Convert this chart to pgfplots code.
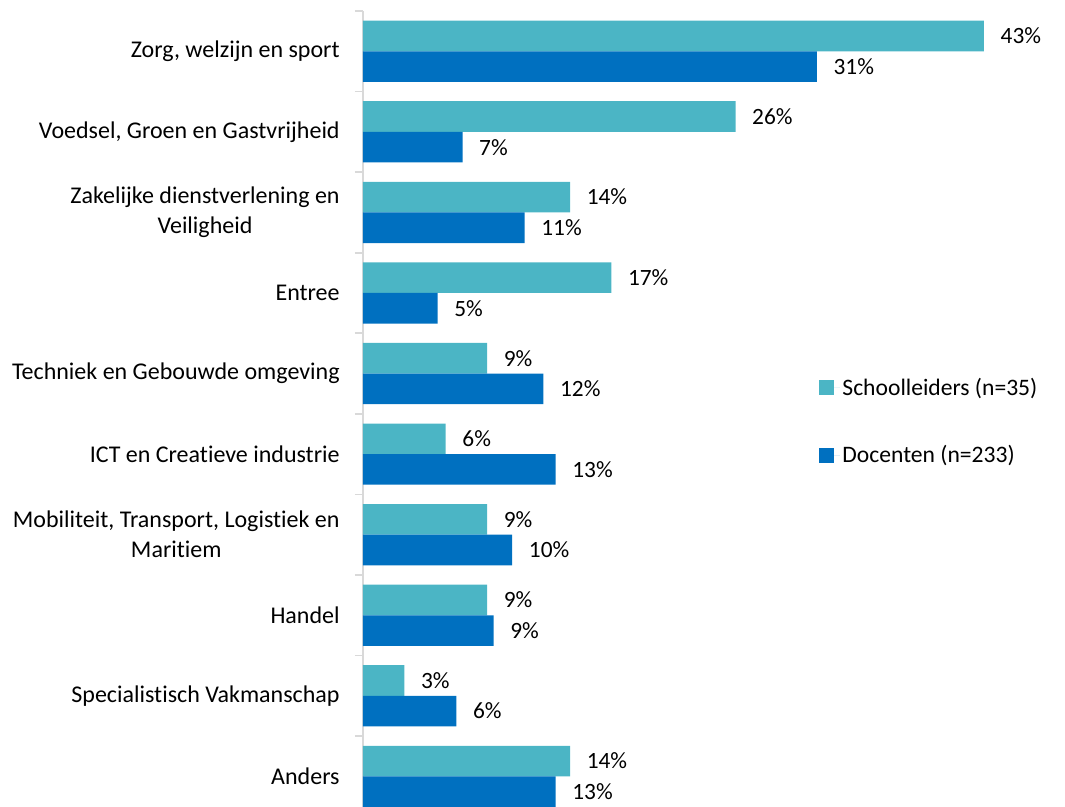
\documentclass[border=0pt]{standalone}
\usepackage{fontspec}
\setmainfont[Ligatures={NoCommon}]{Carlito}
\usepackage{pgfplots}
\pgfplotsset{compat=1.18}
\definecolor{cLight}{RGB}{75,181,197}
\definecolor{cDark}{RGB}{0,112,192}
\definecolor{axgray}{RGB}{217,217,217}
\begin{document}
\begin{tikzpicture}[font=\fontsize{17.5}{22}\selectfont]
\useasboundingbox (0,0) rectangle (798.75pt,605.25pt);
\begin{axis}[
  at={(272.25pt,0pt)}, anchor=south west,
  scale only axis, width=489pt, height=597pt,
  xmin=0, xmax=45, ymin=-0.5, ymax=9.38, y dir=reverse,
  axis x line=none, axis y line*=left,
  y axis line style={draw=axgray, line width=1.2pt},
  xtick=\empty,
  ytick={0,...,9},
  yticklabels={{Zorg, welzijn en sport},{Voedsel, Groen en Gastvrijheid},{Zakelijke dienstverlening en\\Veiligheid},{Entree},{Techniek en Gebouwde omgeving},{ICT en Creatieve industrie},{Mobiliteit, Transport, Logistiek en\\Maritiem},{Handel},{Specialistisch Vakmanschap},{Anders}},
  yticklabel style={align=center, font=\fontsize{18}{22.5}\selectfont, xshift=-14pt},
  major tick length=0pt,
  minor ytick={-0.5,0.5,...,8.5},
  minor tick length=6pt, tick align=outside,
  minor tick style={draw=axgray, line width=1.2pt},
  xbar, bar width=0.38,
  /pgf/number format/assume math mode=true,
  point meta=x,
  nodes near coords={\pgfmathprintnumber[fixed,precision=0]{\pgfplotspointmeta}\%},
  nodes near coords style={anchor=west, xshift=9pt, font=\fontsize{17.5}{22}\selectfont, text=black},
  legend style={at={(0.693,0.4845)}, anchor=west, draw=none, fill=none,
    row sep=32.5pt, font=\fontsize{17.7}{22}\selectfont},
  legend cell align=left,
  legend image code/.code={\fill[#1] (0pt,-5.75pt) rectangle (11.5pt,5.75pt); \path (0pt,0pt) -- (15.5pt,0pt);},
]
\addplot[fill=cLight, draw=none, bar shift=-0.19] coordinates {
 (42.86,0) (25.71,1) (14.29,2) (17.14,3) (8.57,4) (5.71,5) (8.57,6) (8.57,7) (2.86,8) (14.29,9)};
\addlegendentry{Schoolleiders (n=35)}
\addplot[fill=cDark, draw=none, bar shift=0.19] coordinates {
 (31.33,0) (6.87,1) (11.16,2) (5.15,3) (12.45,4) (13.30,5) (10.30,6) (9.01,7) (6.44,8) (13.30,9)};
\addlegendentry{Docenten (n=233)}
\end{axis}
\end{tikzpicture}
\end{document}
